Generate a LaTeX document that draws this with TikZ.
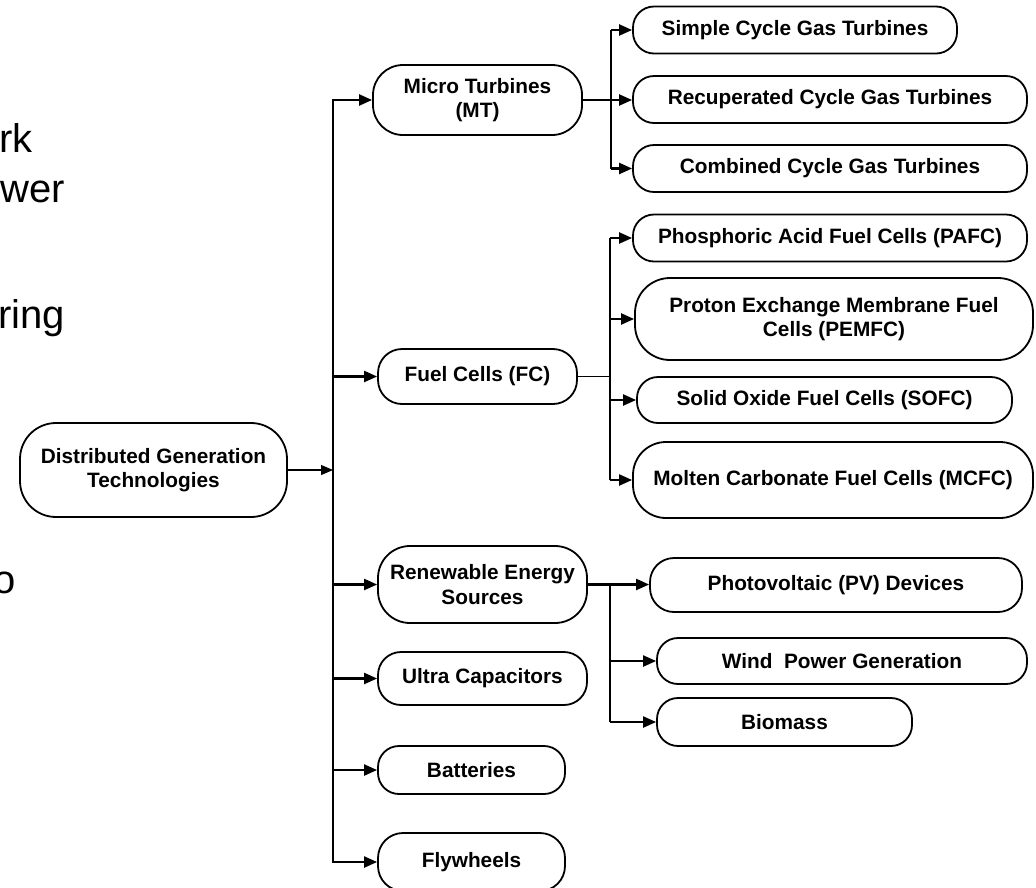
\documentclass[tikz,border=0pt]{standalone}
\usepackage{fontspec}
\setmainfont{Liberation Sans}
\usetikzlibrary{arrows.meta}
\begin{document}
\begin{tikzpicture}[x=1pt,y=-1pt,
  box/.style={draw, line width=1.8pt, align=center, inner sep=0pt,
    font=\bfseries\fontsize{20.8}{24.5}\selectfont},
  mainline/.style={line width=2.2pt},
  subline/.style={line width=1.1pt},
  arr/.style={-{Triangle[length=13pt,width=11pt]}, line width=2.2pt},
  rootarr/.style={-{Triangle[length=12pt,width=10pt]}, line width=1.1pt},
  slide/.style={anchor=base east, inner sep=0pt, font=\fontsize{40}{48}\selectfont}
]
\useasboundingbox (0,0) rectangle (1036,887);
\clip (0,0) rectangle (1036,887);

% fragments of slide text at the left edge
\node[slide] (s1) at (33,152) {rk};
\node[slide] (s2) at (65,202) {wer};
\node[slide] (s3) at (65,328) {ring};
\node[slide] (s4) at (16,593) {o};

% root
\node[box, minimum width=267pt, minimum height=94pt, rounded corners=36pt] (root) at (153.5,470) {Distributed Generation\\Technologies};

% level 1
\node[box, minimum width=209pt, minimum height=70pt, rounded corners=30pt] (mt) at (477.5,100) {Micro Turbines\\(MT)};
\node[box, minimum width=199pt, minimum height=55pt, rounded corners=24pt] (fc) at (477.5,376.5) {Fuel Cells (FC)};
\node[box, minimum width=209pt, minimum height=77pt, rounded corners=32pt] (res) at (482.5,584.5) {Renewable Energy\\Sources};
\node[box, minimum width=209pt, minimum height=53pt, rounded corners=23pt] (uc) at (482.5,678.5) {Ultra Capacitors};
\node[box, minimum width=187pt, minimum height=48pt, rounded corners=21pt] (bat) at (471.5,770) {Batteries};
\node[box, minimum width=187pt, minimum height=58pt, rounded corners=25pt] (fly) at (471.5,862) {Flywheels};

% MT children
\node[box, minimum width=324pt, minimum height=47pt, rounded corners=21pt] (sim) at (795,30) {Simple Cycle Gas Turbines};
\node[box, minimum width=394pt, minimum height=47pt, rounded corners=21pt] (rec) at (830,99.5) {Recuperated Cycle Gas Turbines};
\node[box, minimum width=394pt, minimum height=47pt, rounded corners=21pt] (com) at (830,168.5) {Combined Cycle Gas Turbines};

% FC children
\node[box, minimum width=394pt, minimum height=47pt, rounded corners=21pt] (pafc) at (830,238) {Phosphoric Acid Fuel Cells (PAFC)};
\node[box, minimum width=398pt, minimum height=82pt, rounded corners=35pt] (pem) at (834,319) {Proton Exchange Membrane Fuel\\Cells (PEMFC)};
\node[box, minimum width=375pt, minimum height=46pt, rounded corners=21pt] (sofc) at (824.5,400) {Solid Oxide Fuel Cells (SOFC)};
\node[box, minimum width=400pt, minimum height=76pt, rounded corners=33pt] (mcfc) at (833,480) {Molten Carbonate Fuel Cells (MCFC)};

% RES children
\node[box, minimum width=372pt, minimum height=54pt, rounded corners=24pt] (pv) at (836,585) {Photovoltaic (PV) Devices};
\node[box, minimum width=370pt, minimum height=46pt, rounded corners=21pt] (wind) at (842,661) {Wind~ Power Generation};
\node[box, minimum width=255pt, minimum height=48pt, rounded corners=21pt] (bio) at (784.5,722) {Biomass};

% bus coordinates
\coordinate (V) at (333,0);
\coordinate (Vm) at (611,0);
\coordinate (Vf) at (610,0);
\coordinate (Vr) at (610,0);

% root to main bus
\draw[rootarr] (root.east) -- (V |- root.east);
\draw[mainline, line cap=rect] (V |- mt) -- (V |- fly);
\foreach \n in {mt,fc,res,uc,bat,fly}{
  \draw[arr] (V |- \n) -- (\n.west);
}

% MT branch
\draw[arr] (mt.east) -- (mt.east -| rec.west);
\draw[subline] (Vm |- sim) -- (Vm |- com);
\draw[arr] (Vm |- sim) -- (sim.west);
\draw[arr] (Vm |- com) -- (com.west);

% FC branch
\draw[subline] (fc.east) -- (Vf |- fc.east);
\draw[subline] (Vf |- pafc) -- (Vf |- mcfc);
\foreach \n in {pafc,pem,sofc,mcfc}{
  \draw[arr] (Vf |- \n) -- (\n.west);
}

% RES branch
\draw[arr] (res.east) -- (res.east -| pv.west);
\draw[subline] (Vr |- res.east) -- (Vr |- bio);
\draw[arr] (Vr |- wind) -- (wind.west);
\draw[arr] (Vr |- bio) -- (bio.west);
\end{tikzpicture}
\end{document}
